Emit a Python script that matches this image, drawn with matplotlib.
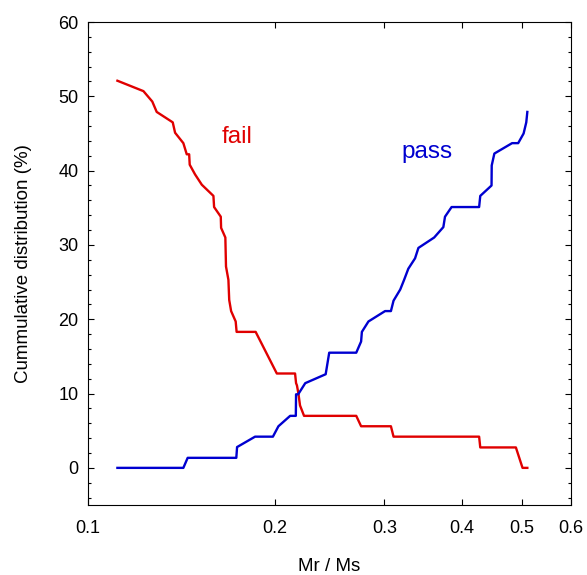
import numpy as np
import matplotlib
matplotlib.use("Agg")
import matplotlib.pyplot as plt
from matplotlib.ticker import FixedLocator, NullLocator, FixedFormatter, MultipleLocator

plt.rcParams['font.family'] = ['Liberation Sans', 'DejaVu Sans']

# fail curve (Mr/Ms, cumulative %)
fail_x = [0.1115, 0.1228, 0.1269, 0.129, 0.1369, 0.1381, 0.1424, 0.1442, 0.1455,
          0.1458, 0.1487, 0.1525, 0.1592, 0.1596, 0.1636, 0.1638, 0.1664, 0.1668,
          0.1683, 0.1688, 0.170, 0.1729, 0.1735, 0.1862, 0.2014, 0.2155, 0.2163,
          0.2170, 0.2182, 0.2195, 0.2228, 0.2704, 0.2753, 0.3075, 0.3105, 0.4265,
          0.4283, 0.4888, 0.501, 0.51]
fail_y = [52.1, 50.7, 49.3, 47.9, 46.5, 45.1, 43.7, 42.2, 42.2,
          40.8, 39.5, 38.1, 36.6, 35.1, 33.8, 32.3, 31.0, 27.1,
          25.3, 22.6, 21.1, 19.7, 18.3, 18.3, 12.7, 12.7, 11.4,
          11.1, 10.0, 8.4, 7.0, 7.0, 5.6, 5.6, 4.2, 4.2,
          2.75, 2.75, 0.0, 0.0]

# pass curve
pass_x = [0.1115, 0.1424, 0.1447, 0.1733, 0.1738, 0.1858, 0.1985, 0.2026, 0.2116,
          0.2161, 0.2163, 0.2180, 0.2238, 0.2414, 0.2446, 0.2704, 0.2753, 0.2761,
          0.2829, 0.3009, 0.3075, 0.3105, 0.3183, 0.3229, 0.328, 0.3363, 0.3405,
          0.361, 0.3735, 0.3758, 0.3851, 0.4265, 0.4283, 0.4466, 0.4469, 0.4513,
          0.482, 0.493, 0.503, 0.508, 0.510]
pass_y = [0.0, 0.0, 1.35, 1.35, 2.8, 4.2, 4.2, 5.6, 7.0,
          7.0, 9.9, 9.9, 11.4, 12.6, 15.5, 15.5, 17.0, 18.3,
          19.7, 21.1, 21.1, 22.5, 24.0, 25.3, 26.8, 28.2, 29.6,
          31.0, 32.4, 33.8, 35.1, 35.1, 36.6, 38.0, 40.7, 42.3,
          43.7, 43.7, 45.0, 46.5, 47.9]

xticks = [0.1, 0.2, 0.3, 0.4, 0.5, 0.6]
xticklabels = ["0.1", "0.2", "0.3", "0.4", "0.5", "0.6"]

red = "#e00000"
blue = "#0000d0"

fig = plt.figure(figsize=(5.87, 5.75), dpi=100)
ax = fig.add_axes([0.150, 0.1217, 0.823, 0.840])

ax.plot(fail_x, fail_y, color=red, lw=1.7)
ax.plot(pass_x, pass_y, color=blue, lw=1.7)

ax.text(0.1737, 44.5, "fail", color=red, fontsize=17.5, ha="center", va="center")
ax.text(0.3517, 42.5, "pass", color=blue, fontsize=17.5, ha="center", va="center")

ax.set_xscale("log")
ax.set_xlim(0.1, 0.6)
ax.set_ylim(-5, 60)
ax.xaxis.set_major_locator(FixedLocator(xticks))
ax.xaxis.set_major_formatter(FixedFormatter(xticklabels))
ax.xaxis.set_minor_locator(NullLocator())
ax.yaxis.set_major_locator(MultipleLocator(10))
ax.yaxis.set_minor_locator(MultipleLocator(2))

ax.tick_params(which="both", direction="in", top=True, right=True, labelsize=13)
ax.tick_params(which="major", length=4.5, width=0.8)
ax.tick_params(which="minor", length=2.2, width=0.8)
ax.tick_params(axis="x", pad=11)
ax.tick_params(axis="y", pad=7)

ax.set_xlabel("Mr / Ms", fontsize=13.5, labelpad=15)
ax.set_ylabel("Cummulative distribution (%)", fontsize=13.5, labelpad=19)

fig.savefig("out.png", dpi=100)
